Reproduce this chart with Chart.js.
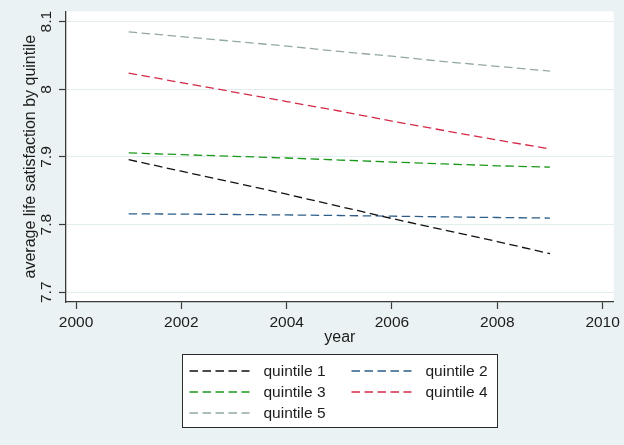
<!DOCTYPE html>
<html>
<head>
<meta charset="utf-8">
<script src="https://cdn.jsdelivr.net/npm/chart.js@4.4.1/dist/chart.umd.min.js"></script>
<style>
  html, body { margin: 0; padding: 0; background: #eaf2f3; overflow: hidden; }
  #wrap { width: 624px; height: 445px; }
</style>
</head>
<body>
<div id="wrap"><canvas id="chart" width="624" height="445"></canvas></div>
<script>
// data
const years = [2001, 2002, 2003, 2004, 2005, 2006, 2007, 2008, 2009];
const quintile1 = [7.896, 7.879, 7.862, 7.845, 7.827, 7.809, 7.792, 7.775, 7.757];
const quintile2 = [7.816, 7.8155, 7.815, 7.8143, 7.8135, 7.8125, 7.8115, 7.8105, 7.8097];
const quintile3 = [7.906, 7.9035, 7.901, 7.8985, 7.8955, 7.8925, 7.8897, 7.887, 7.885];
const quintile4 = [8.024, 8.010, 7.996, 7.982, 7.968, 7.953, 7.939, 7.925, 7.912];
const quintile5 = [8.085, 8.078, 8.071, 8.064, 8.056, 8.049, 8.041, 8.034, 8.027];

const seriesLabels = ['quintile 1', 'quintile 2', 'quintile 3', 'quintile 4', 'quintile 5'];
const seriesValues = [quintile1, quintile2, quintile3, quintile4, quintile5];
const seriesColors = ['#111111', '#2d5d88', '#1b991b', '#d32a48', '#93a8a3'];

const xTicks = [2000, 2002, 2004, 2006, 2008, 2010];
const xTickLabels = ['2000', '2002', '2004', '2006', '2008', '2010'];
const yTicks = [7.7, 7.8, 7.9, 8, 8.1];
const yTickLabels = ['7.7', '7.8', '7.9', '8', '8.1'];

const FONT = '"Liberation Sans", Arial, sans-serif';
const BG = '#eaf2f3';
const AXIS = '#3a3a3a';
const TEXT = '#1c1c1c';

// outer grey-blue region + white plot region
const plotBackground = {
  id: 'plotBackground',
  beforeDraw(chart) {
    const { ctx, chartArea: a } = chart;
    ctx.save();
    ctx.fillStyle = BG;
    ctx.fillRect(0, 0, chart.width, chart.height);
    ctx.fillStyle = '#ffffff';
    ctx.fillRect(a.left, a.top, a.right - a.left, a.bottom - a.top);
    ctx.restore();
  }
};

// two-column boxed legend like stata
const stataLegend = {
  id: 'stataLegend',
  afterDraw(chart) {
    const { ctx, chartArea } = chart;
    const w = 315, h = 73;
    const left = Math.round((chartArea.left + chartArea.right) / 2 - w / 2) + 0.5;
    const top = Math.round(chart.scales.x.bottom + 7) + 0.5;
    ctx.save();
    ctx.fillStyle = '#ffffff';
    ctx.fillRect(left, top, w, h);
    ctx.strokeStyle = '#2b2b2b';
    ctx.lineWidth = 1;
    ctx.strokeRect(left, top, w, h);
    ctx.font = '15.5px ' + FONT;
    ctx.textBaseline = 'middle';
    chart.data.datasets.forEach((ds, i) => {
      const col = i % 2, row = Math.floor(i / 2);
      const lx = left + 7 + col * 162;
      const ly = top + 16.5 + row * 21;
      ctx.strokeStyle = ds.borderColor;
      ctx.lineWidth = ds.borderWidth;
      ctx.setLineDash(ds.borderDash);
      ctx.beginPath();
      ctx.moveTo(lx, ly);
      ctx.lineTo(lx + 60, ly);
      ctx.stroke();
      ctx.setLineDash([]);
      ctx.fillStyle = TEXT;
      ctx.fillText(ds.label, lx + 74, ly + 1);
    });
    ctx.restore();
  }
};

const datasets = seriesLabels.map((label, i) => ({
  label: label,
  data: years.map((yr, j) => ({ x: yr, y: seriesValues[i][j] })),
  borderColor: seriesColors[i],
  borderWidth: 1.3,
  borderDash: [8.5, 4.5],
  pointRadius: 0,
  tension: 0,
  fill: false
}));

new Chart(document.getElementById('chart'), {
  type: 'line',
  data: { datasets: datasets },
  plugins: [plotBackground, stataLegend],
  options: {
    responsive: false,
    animation: false,
    layout: { padding: { left: 0, top: 10, right: 7, bottom: 98 } },
    plugins: {
      legend: { display: false },
      tooltip: { enabled: false }
    },
    scales: {
      x: {
        type: 'linear',
        min: 1999.81,
        max: 2010.21,
        afterBuildTicks: s => { s.ticks = xTicks.map(v => ({ value: v })); },
        afterFit: s => { s.height = 45; },
        ticks: {
          callback: (v, i) => xTickLabels[i],
          color: TEXT,
          font: { family: FONT, size: 15.5 },
          padding: 4,
          maxRotation: 0,
          autoSkip: false
        },
        grid: {
          drawOnChartArea: false,
          drawTicks: true,
          tickLength: 7,
          tickColor: AXIS,
          tickWidth: 1.2
        },
        border: { color: AXIS, width: 1.3 },
        title: {
          display: true,
          text: 'year',
          color: TEXT,
          font: { family: FONT, size: 16 },
          padding: { top: 0, bottom: 0 }
        }
      },
      y: {
        type: 'linear',
        min: 7.6856,
        max: 8.1154,
        afterBuildTicks: s => { s.ticks = yTicks.map(v => ({ value: v })); },
        afterFit: s => { s.width = 66; },
        ticks: {
          callback: (v, i) => yTickLabels[i],
          color: TEXT,
          font: { family: FONT, size: 15.5 },
          padding: 2,
          minRotation: 90,
          maxRotation: 90,
          crossAlign: 'center',
          autoSkip: false
        },
        grid: {
          color: '#e3ecee',
          lineWidth: 1,
          drawTicks: true,
          tickLength: 7,
          tickColor: AXIS,
          tickWidth: 1.2
        },
        border: { color: AXIS, width: 1.3 },
        title: {
          display: true,
          text: 'average life satisfaction by quintile',
          color: TEXT,
          font: { family: FONT, size: 16 },
          padding: { top: 21, bottom: 0 }
        }
      }
    }
  }
});
</script>
</body>
</html>
